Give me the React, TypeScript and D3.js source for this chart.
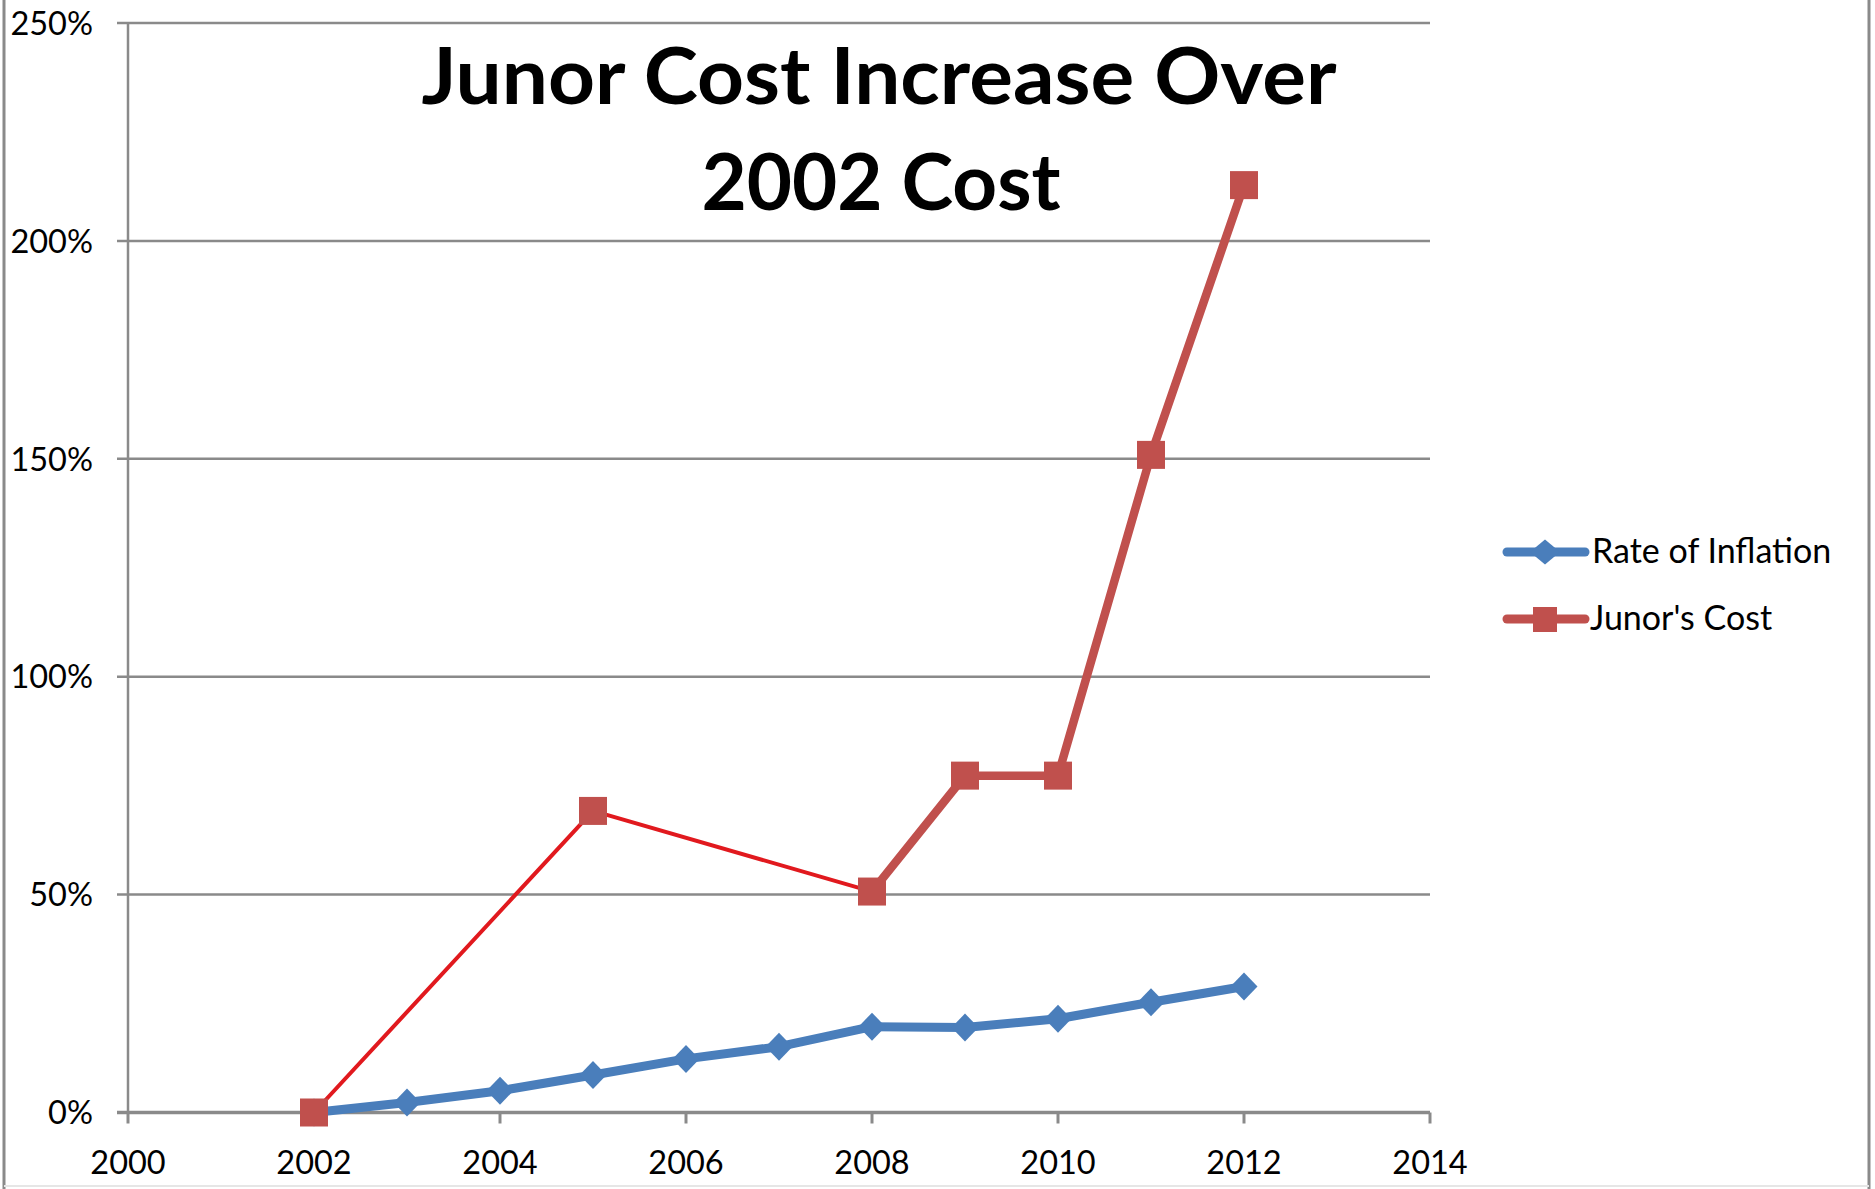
import React from "react";
import * as d3 from "d3";

const years = [2002, 2003, 2004, 2005, 2006, 2007, 2008, 2009, 2010, 2011, 2012];
const inflation = [0, 2.3, 5.0, 8.6, 12.3, 15.1, 19.7, 19.5, 21.5, 25.3, 28.9];
const junorYears = [2002, 2005, 2008, 2009, 2010, 2011, 2012];
const junorCost = [0, 69.2, 50.7, 77.3, 77.3, 150.9, 212.8];
const yTicks = [0, 50, 100, 150, 200, 250];
const xTicks = [2000, 2002, 2004, 2006, 2008, 2010, 2012, 2014];
const seriesNames = ["Rate of Inflation", "Junor's Cost"];
const titleLines = ["Junor Cost Increase Over", "2002 Cost"];
const thinUntilYear = 2008;

const W = 1875;
const H = 1189;
const FONT = "Lato, 'Open Sans', 'Noto Sans', sans-serif";
const GRID = "#8a8a8a";
const BLUE = "#4a7ebb";
const RED = "#c0504d";
const RED_THIN = "#e1191e";

export default function App() {
  const x = d3.scaleLinear().domain([2000, 2014]).range([128, 1430]);
  const y = d3.scaleLinear().domain([0, 250]).range([1112.5, 23]);

  const line = d3
    .line<[number, number]>()
    .x((d) => x(d[0]))
    .y((d) => y(d[1]));

  const blueData: [number, number][] = years.map((yr, i) => [yr, inflation[i]]);
  const redData: [number, number][] = junorYears.map((yr, i) => [yr, junorCost[i]]);
  const redThin = redData.filter((d) => d[0] <= thinUntilYear);
  const redThick = redData.filter((d) => d[0] >= thinUntilYear);

  const diamond = (cx: number, cy: number, hw: number, hh: number) =>
    `M${cx},${cy - hh}L${cx + hw},${cy}L${cx},${cy + hh}L${cx - hw},${cy}Z`;

  const x0 = x.range()[0];
  const x1 = x.range()[1];
  const yBase = y(0);

  return (
    <svg
      width={W}
      height={H}
      style={{ position: "absolute", left: 0, top: 0, background: "#fff" }}
      fontFamily={FONT}
    >
      <rect x={0} y={0} width={W} height={H} fill="#fff" />
      {/* outer frame */}
      <line x1={4} x2={4} y1={0} y2={H} stroke={GRID} strokeWidth={3} />
      <line x1={1869} x2={1869} y1={0} y2={H} stroke={GRID} strokeWidth={3} />
      <line x1={4} x2={1869} y1={1186} y2={1186} stroke="#e6e6e6" strokeWidth={2} />

      {/* gridlines */}
      {yTicks.map((t) => (
        <line
          key={"g" + t}
          x1={x0 - 11}
          x2={x1}
          y1={y(t)}
          y2={y(t)}
          stroke={GRID}
          strokeWidth={t === 0 ? 3.5 : 2.5}
        />
      ))}
      {/* y axis */}
      <line x1={x0} x2={x0} y1={y(250)} y2={yBase} stroke={GRID} strokeWidth={2.5} />
      {/* x ticks */}
      {xTicks.map((t) => (
        <line
          key={"xt" + t}
          x1={x(t)}
          x2={x(t)}
          y1={yBase}
          y2={yBase + 11}
          stroke={GRID}
          strokeWidth={3}
        />
      ))}
      {/* y labels */}
      {yTicks.map((t) => (
        <text
          key={"yl" + t}
          x={93}
          y={y(t)}
          dy="0.36em"
          textAnchor="end"
          fontSize={32.5}
          fill="#000"
        >
          {t + "%"}
        </text>
      ))}
      {/* x labels */}
      {xTicks.map((t) => (
        <text key={"xl" + t} x={x(t)} y={1174} textAnchor="middle" fontSize={32.5} fill="#000">
          {t}
        </text>
      ))}

      {/* title */}
      <text
        x={879}
        y={104}
        textAnchor="middle"
        fontSize={78}
        fontWeight={700}
        textLength={915}
        lengthAdjust="spacingAndGlyphs"
        fill="#000"
      >
        {titleLines[0]}
      </text>
      <text
        x={881}
        y={210}
        textAnchor="middle"
        fontSize={78}
        fontWeight={700}
        textLength={359}
        lengthAdjust="spacingAndGlyphs"
        fill="#000"
      >
        {titleLines[1]}
      </text>

      {/* blue series */}
      <path d={line(blueData) || ""} fill="none" stroke={BLUE} strokeWidth={9} strokeLinejoin="round" />
      {blueData.map((d) => (
        <path key={"bd" + d[0]} d={diamond(x(d[0]), y(d[1]), 13.5, 14)} fill={BLUE} />
      ))}

      {/* red series */}
      <path d={line(redThin) || ""} fill="none" stroke={RED_THIN} strokeWidth={4} strokeLinejoin="round" />
      <path d={line(redThick) || ""} fill="none" stroke={RED} strokeWidth={8.5} strokeLinejoin="round" />
      {redData.map((d) => (
        <rect
          key={"rs" + d[0]}
          x={x(d[0]) - 14}
          y={y(d[1]) - 14}
          width={28}
          height={28}
          fill={RED}
        />
      ))}

      {/* legend */}
      <line x1={1507} x2={1585} y1={552} y2={552} stroke={BLUE} strokeWidth={9} strokeLinecap="round" />
      <path d={diamond(1545, 552, 15, 12.5)} fill={BLUE} />
      <text x={1592} y={563} fontSize={34} fill="#000">
        {seriesNames[0]}
      </text>
      <line x1={1507} x2={1585} y1={619} y2={619} stroke={RED} strokeWidth={9} strokeLinecap="round" />
      <rect x={1533} y={607} width={24} height={25} fill={RED} />
      <text x={1590} y={630} fontSize={34} fill="#000">
        {seriesNames[1]}
      </text>
    </svg>
  );
}
